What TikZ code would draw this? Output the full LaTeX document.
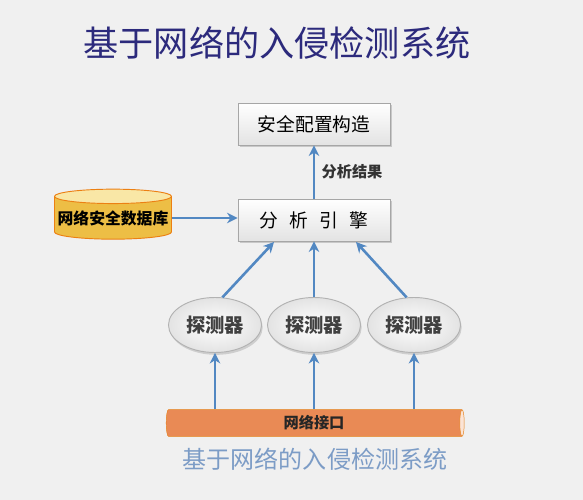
\documentclass[tikz,border=0pt]{standalone}
\usepackage{fontspec}
\setmainfont{Noto Sans CJK SC}
\usepackage[svgnames]{xcolor}
\usepackage{tikz}
\usetikzlibrary{shapes.geometric,shadows,arrows.meta}
\definecolor{arrowblue}{HTML}{5288C2}
\definecolor{titleblue}{HTML}{2C2A7C}
\definecolor{capblue}{HTML}{7C9CC6}
\definecolor{dbgold}{HTML}{EDBE45}
\definecolor{dbtop}{HTML}{F9E7A6}
\definecolor{pipeorange}{HTML}{E98A55}
\definecolor{pipeend}{HTML}{FBE4D6}

\begin{document}
\begin{tikzpicture}[x=0.03cm,y=-0.03cm,
	box/.style={draw=gray!70,thick,top color=white,bottom color=gray!22,minimum width=4.56cm,minimum height=1.26cm,drop shadow={shadow xshift=2pt,shadow yshift=-2pt,opacity=0.35},font=\fontsize{16}{16}\selectfont},
	probe/.style={ellipse,draw=gray!60,thick,inner color=white,outer color=gray!22,minimum width=2.55cm,minimum height=1.65cm,drop shadow={shadow xshift=1pt,shadow yshift=-2pt,opacity=0.3},font=\fontsize{16.5}{16.5}\selectfont\bfseries,text=black!75},
	flow/.style={line width=2.2pt,arrowblue,-{Stealth[length=9pt,width=9pt]}}]
	\fill[gray!12] (0,0) rectangle (583,500);
	\useasboundingbox (0,0) rectangle (583,500);
	% title
	\node[text=titleblue,font=\fontsize{30}{30}\selectfont] (title) at (277,43) {基于网络的入侵检测系统};
	% boxes
	\node[box] (config) at (314,124) {安全配置构造};
	\node[box] (engine) at (314,220) {分\hspace{0.6em}析\hspace{0.6em}引\hspace{0.6em}擎};
	\node[cylinder,shape border rotate=90,aspect=0.13,draw=orange!70!brown,thick,cylinder uses custom fill,cylinder body fill=dbgold,cylinder end fill=dbtop,minimum width=3.51cm,minimum height=1.5cm,inner sep=0pt,font=\fontsize{13.5}{13.5}\selectfont\bfseries] (db) at (113,218) {网络安全数据库};
	% probes
	\node[probe] (p1) at (215,325) {探测器};
	\node[probe] (p2) at (314,325) {探测器};
	\node[probe] (p3) at (414,325) {探测器};
	% pipe
	\node[cylinder,aspect=0.3,draw=orange!60!brown,cylinder uses custom fill,cylinder body fill=pipeorange,cylinder end fill=pipeend,minimum height=8.94cm,minimum width=0.8cm,inner sep=0pt,font=\fontsize{13}{13}\selectfont\bfseries,text=black!85] (net) at (314,423) {网络接口};
	\node[text=capblue,font=\fontsize{20.5}{20.5}\selectfont] (caption) at (315,459) {基于网络的入侵检测系统};
	% arrow ends under the engine
	\coordinate (e1) at (274,242);
	\coordinate (e3) at (356,242);
	% arrows
	\draw[flow] (engine) -- (config) node[midway,right=2pt,font=\fontsize{13}{13}\selectfont\bfseries,text=black!80]{分析结果};
	\draw[flow] (db.east) -- (db.east -| engine.west);
	\draw[flow] (p1.75) -- (e1);
	\draw[flow] (p2) -- (engine);
	\draw[flow] (p3.105) -- (e3);
	\draw[flow] (net.north -| p1) -- (p1);
	\draw[flow] (net.north -| p2) -- (p2);
	\draw[flow] (net.north -| p3) -- (p3);
\end{tikzpicture}
\end{document}
